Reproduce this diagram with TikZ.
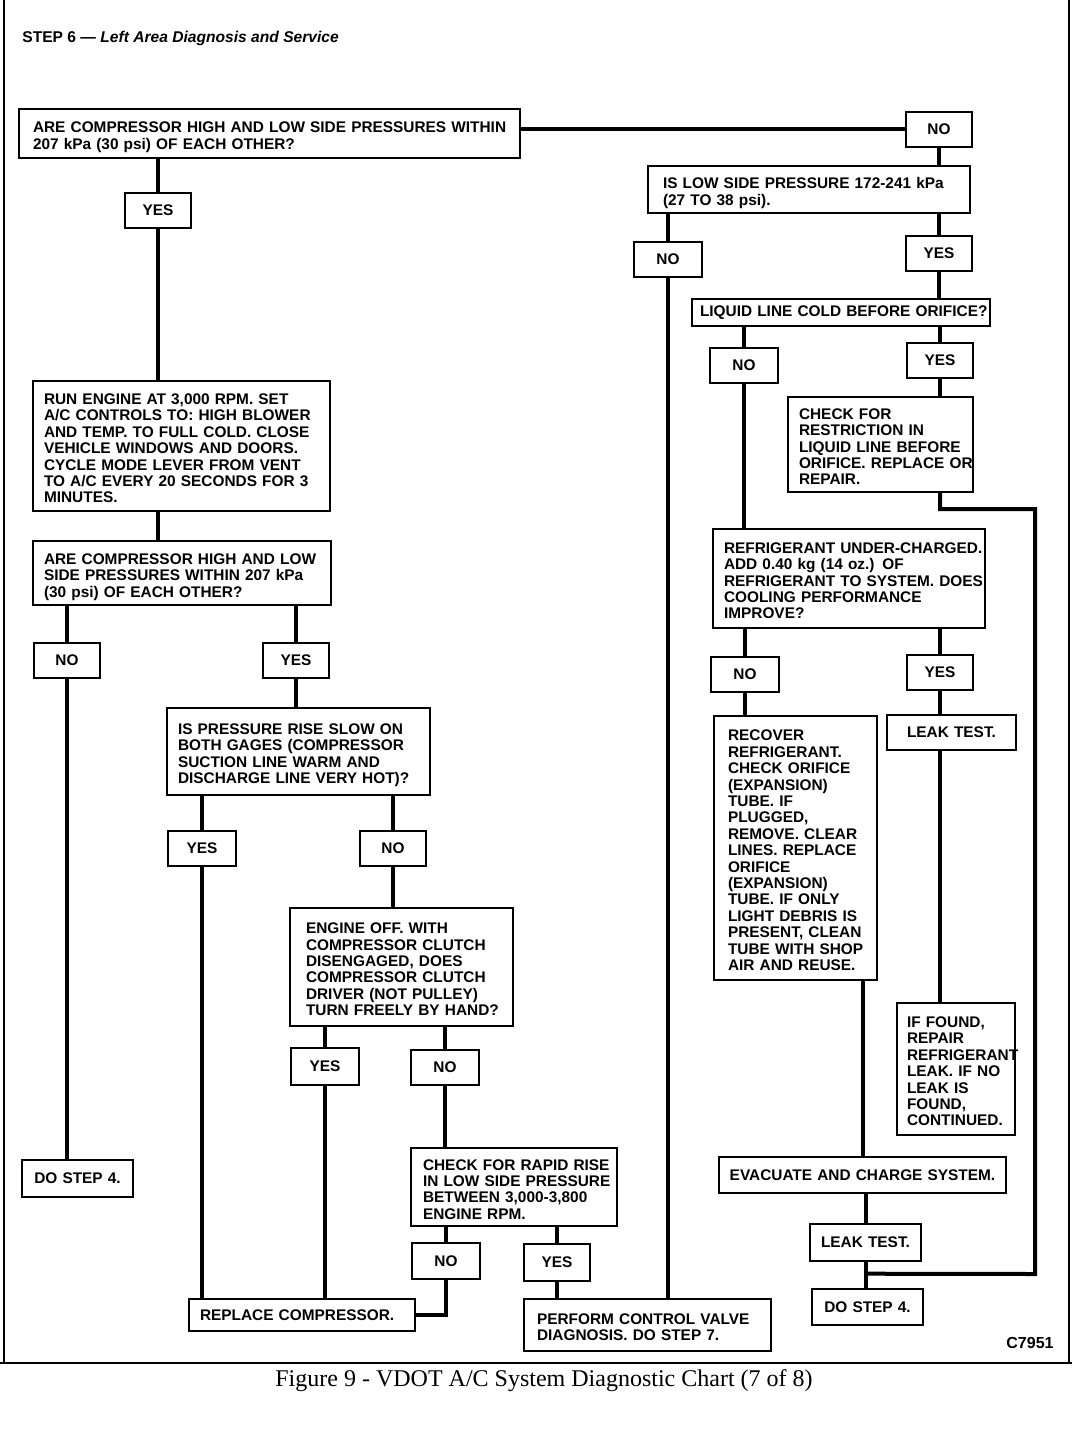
\documentclass[tikz,border=0pt]{standalone}
\usepackage{fontspec}
\setmainfont{Liberation Serif}
\newfontfamily\chartfont{Liberation Sans}
\usepackage{tikz}
\usetikzlibrary{calc}
\newcommand{\chartbold}{\chartfont\bfseries\fontsize{7.7}{8.2}\selectfont}
\newcommand{\boxlines}[1]{\raisebox{-2.2pt}[\height][\depth]{\begin{tabular}{@{}l@{}}#1\end{tabular}}}

\begin{document}
\begin{tikzpicture}[x=0.5pt, y=-0.5pt,
  qbox/.style={draw, line width=1pt, align=left, inner xsep=5.5pt, inner ysep=0pt, font=\chartbold},
  ans/.style={draw, line width=1pt, align=center, inner sep=0pt, minimum width=33pt, minimum height=17.5pt, font=\chartbold},
  link/.style={line width=2pt}]
  \useasboundingbox (0,0) rectangle (1072,1440);

  % page frame
  \draw[line width=0.8pt] (4,0) -- (4,1363);
  \draw[line width=0.8pt] (1069,0) -- (1069,1363);
  \draw[line width=1.2pt] (0,1363) -- (1072,1363);

  \node[anchor=west, inner sep=0pt, font=\chartfont\bfseries\fontsize{7.8}{9}\selectfont] (title) at (22,38) {STEP 6 — \textit{Left Area Diagnosis and Service}};
  \node[font=\chartfont\bfseries\fontsize{8}{9}\selectfont] (code) at (1030,1343) {C7951};
  \node[font=\fontsize{12}{14}\selectfont] (caption) at (544,1381) {Figure 9 - VDOT A/C System Diagnostic Chart (7 of 8)};

  % left branch
  \node[qbox, inner xsep=7pt, text width=236.5pt, minimum height=24.5pt] (q1) at (269.5,133.5) {\boxlines{ARE COMPRESSOR HIGH AND LOW SIDE PRESSURES WITHIN\\207 kPa (30 psi) OF EACH OTHER?}};
  \node[ans] (no1) at (939,129) {NO};
  \node[ans] (yes1) at (158,210) {YES};
  \node[qbox, text width=137.5pt, minimum height=65pt] (run) at (181.5,446) {\boxlines{RUN ENGINE AT 3,000 RPM. SET\\A/C CONTROLS TO: HIGH BLOWER\\AND TEMP. TO FULL COLD. CLOSE\\VEHICLE WINDOWS AND DOORS.\\CYCLE MODE LEVER FROM VENT\\TO A/C EVERY 20 SECONDS FOR 3\\MINUTES.}};
  \node[qbox, text width=138pt, minimum height=32pt] (q2) at (182,573) {\boxlines{ARE COMPRESSOR HIGH AND LOW\\SIDE PRESSURES WITHIN 207 kPa\\(30 psi) OF EACH OTHER?}};
  \node[ans] (no2) at (67,660) {NO};
  \node[ans] (yes2) at (296,660) {YES};
  \node[qbox, align=center, text width=44.5pt, minimum height=18.5pt] (step4a) at (77.5,1178.5) {DO STEP 4.};
  \node[qbox, text width=120.5pt, minimum height=43.5pt] (q3) at (298.5,751.5) {\boxlines{IS PRESSURE RISE SLOW ON\\BOTH GAGES (COMPRESSOR\\SUCTION LINE WARM AND\\DISCHARGE LINE VERY HOT)?}};
  \node[ans, minimum width=34pt] (yes3) at (202,848.5) {YES};
  \node[ans] (no3) at (393,848.5) {NO};
  \node[qbox, inner xsep=8pt, text width=95.5pt, minimum height=59pt] (q4) at (401.5,967) {\boxlines{ENGINE OFF. WITH\\COMPRESSOR CLUTCH\\DISENGAGED, DOES\\COMPRESSOR CLUTCH\\DRIVER (NOT PULLEY)\\TURN FREELY BY HAND?}};
  \node[ans, minimum width=34pt, minimum height=18.5pt] (yes4) at (325,1066.5) {YES};
  \node[ans, minimum width=34pt] (no4) at (445,1067.5) {NO};
  \node[qbox, inner xsep=6pt, text width=91pt, minimum height=39pt] (q5) at (514,1187) {\boxlines{CHECK FOR RAPID RISE\\IN LOW SIDE PRESSURE\\BETWEEN 3,000-3,800\\ENGINE RPM.}};
  \node[ans, minimum width=34pt, minimum height=18pt] (no5) at (446,1261) {NO};
  \node[ans, minimum height=18.5pt] (yes5) at (557,1262.5) {YES};
  \node[qbox, text width=102pt, minimum height=16pt] (replace) at (302,1315) {REPLACE COMPRESSOR.};
  \node[qbox, inner xsep=6.5pt, text width=110.5pt, minimum height=26pt] (perform) at (647.5,1325) {\boxlines{PERFORM CONTROL VALVE\\DIAGNOSIS. DO STEP 7.}};

  % right branch
  \node[qbox, inner xsep=7.5pt, text width=146pt, minimum height=23.5pt] (q6) at (809,189.5) {\boxlines{IS LOW SIDE PRESSURE 172-241 kPa\\(27 TO 38 psi).}};
  \node[ans, minimum width=34pt] (no6) at (668,259.5) {NO};
  \node[ans] (yes6) at (939,253.5) {YES};
  \node[qbox, inner xsep=4pt, text width=141pt, minimum height=13.5pt] (q7) at (841,312.5) {\mbox{LIQUID LINE COLD BEFORE ORIFICE?}};
  \node[ans, minimum width=34pt] (no7) at (744,365.5) {NO};
  \node[ans] (yes7) at (940,360.5) {YES};
  \node[qbox, text width=81.5pt, minimum height=47.5pt] (check) at (880.5,444.5) {\boxlines{CHECK FOR\\RESTRICTION IN\\LIQUID LINE BEFORE\\ORIFICE. REPLACE OR\\REPAIR.}};
  \node[qbox, text width=125pt, minimum height=49.5pt] (q8) at (849,578.5) {\boxlines{REFRIGERANT UNDER-CHARGED.\\ADD 0.40 kg (14 oz.) OF\\REFRIGERANT TO SYSTEM. DOES\\COOLING PERFORMANCE\\IMPROVE?}};
  \node[ans, minimum width=34pt] (no8) at (745,674.5) {NO};
  \node[ans] (yes8) at (940,672.5) {YES};
  \node[qbox, inner xsep=7pt, text width=67.5pt, minimum height=132pt] (recover) at (795.5,848) {\boxlines{RECOVER\\REFRIGERANT.\\CHECK ORIFICE\\(EXPANSION)\\TUBE. IF\\PLUGGED,\\REMOVE. CLEAR\\LINES. REPLACE\\ORIFICE\\(EXPANSION)\\TUBE. IF ONLY\\LIGHT DEBRIS IS\\PRESENT, CLEAN\\TUBE WITH SHOP\\AIR AND REUSE.}};
  \node[qbox, align=center, text width=53.5pt, minimum height=17.5pt] (leak1) at (951.5,732.5) {LEAK TEST.};
  \node[qbox, inner xsep=5pt, text width=49pt, minimum height=66pt] (found) at (956,1069) {\boxlines{IF FOUND,\\REPAIR\\REFRIGERANT\\LEAK. IF NO\\LEAK IS\\FOUND,\\CONTINUED.}};
  \node[qbox, align=center, inner xsep=2pt, text width=139.5pt, minimum height=18pt] (evac) at (862.5,1175) {EVACUATE AND CHARGE SYSTEM.};
  \node[qbox, align=center, text width=44.5pt, minimum height=18.5pt] (leak2) at (865.5,1242.5) {LEAK TEST.};
  \node[qbox, align=center, text width=44.5pt, minimum height=18pt] (step4b) at (867.5,1307) {DO STEP 4.};

  \coordinate (join) at ($(leak2.south)!0.45!(step4b.north)$);
  \coordinate (loopcorner) at (1035,1274);

  % connectors, left side
  \draw[link] (q1.east |- no1) -- (no1.west);
  \draw[link] (q1.south -| yes1) -- (yes1.north);
  \draw[link] (yes1.south) -- (yes1.south |- run.north);
  \draw[link] (run.south -| yes1) -- (q2.north -| yes1);
  \draw[link] (q2.south -| no2) -- (no2.north);
  \draw[link] (q2.south -| yes2) -- (yes2.north);
  \draw[link] (no2.south) -- (no2.south |- step4a.north);
  \draw[link] (yes2.south) -- (yes2.south |- q3.north);
  \draw[link] (q3.south -| yes3) -- (yes3.north);
  \draw[link] (q3.south -| no3) -- (no3.north);
  \draw[link] (yes3.south) -- (yes3.south |- replace.north);
  \draw[link] (no3.south) -- (no3.south |- q4.north);
  \draw[link] (q4.south -| yes4) -- (yes4.north);
  \draw[link] (q4.south -| no4) -- (no4.north);
  \draw[link] (yes4.south) -- (yes4.south |- replace.north);
  \draw[link] (no4.south) -- (no4.south |- q5.north);
  \draw[link] (q5.south -| no5) -- (no5.north);
  \draw[link] (q5.south -| yes5) -- (yes5.north);
  \draw[link] (no5.south) |- (replace.east);
  \draw[link] (yes5.south) -- (yes5.south |- perform.north);

  % connectors, right side
  \draw[link] (no1.south) -- (no1.south |- q6.north);
  \draw[link] (q6.south -| no6) -- (no6.north);
  \draw[link] (q6.south -| yes6) -- (yes6.north);
  \draw[link] (no6.south) -- (no6.south |- perform.north);
  \draw[link] (yes6.south) -- (yes6.south |- q7.north);
  \draw[link] (q7.south -| no7) -- (no7.north);
  \draw[link] (q7.south -| yes7) -- (yes7.north);
  \draw[link] (yes7.south) -- (yes7.south |- check.north);
  \draw[link] (no7.south) -- (no7.south |- q8.north);
  \draw[link] (check.south -| yes7) -- ++(0,16) -| (loopcorner) -- (join);
  \draw[link] (q8.south -| no8) -- (no8.north);
  \draw[link] (q8.south -| yes8) -- (yes8.north);
  \draw[link] (no8.south) -- (no8.south |- recover.north);
  \draw[link] (yes8.south) -- (yes8.south |- leak1.north);
  \draw[link] (leak1.south -| yes8) -- (found.north -| yes8);
  \draw[link] (recover.south -| evac) -- (evac.north);
  \draw[link] (evac.south -| leak2) -- (leak2.north);
  \draw[link] (leak2.south) -- (leak2.south |- step4b.north);
\end{tikzpicture}
\end{document}
